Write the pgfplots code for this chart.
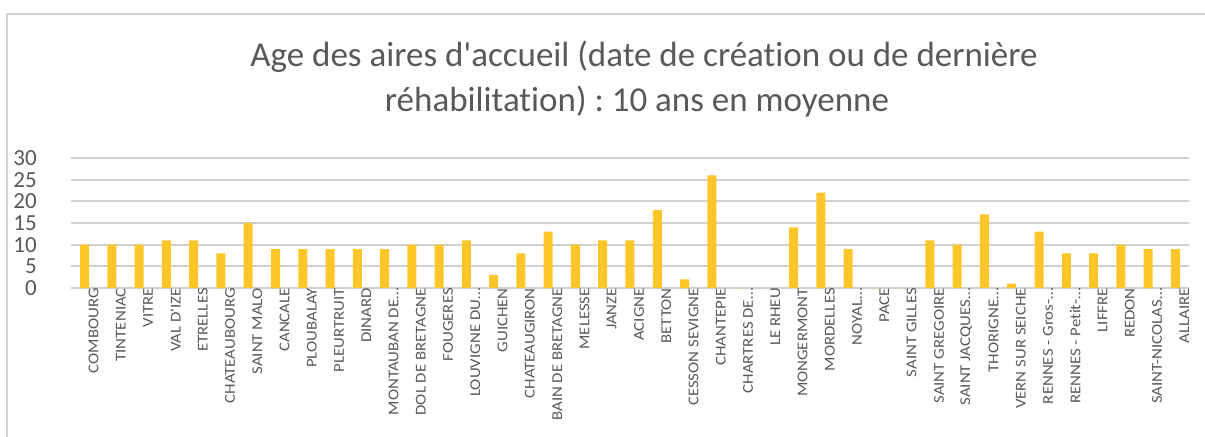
\documentclass[border=0pt]{standalone}
\usepackage{pgfplots}
\pgfplotsset{compat=1.18}
\usepackage{pgfplotstable}
\usepackage{fontspec}
\setmainfont{Carlito}[Ligatures={TeXOff,CommonOff}]
\newfontfamily\lblfont{Carlito}[FakeStretch=1.12, Ligatures={TeXOff,CommonOff}]
\frenchspacing
\definecolor{txt}{HTML}{595959}
\definecolor{gridc}{HTML}{D0D0D0}
\definecolor{barc}{HTML}{FFC629}
\pgfplotstableread{
x y
0 10
1 10
2 10
3 11
4 11
5 8
6 15
7 9
8 9
9 9
10 9
11 9
12 10
13 10
14 11
15 3
16 8
17 13
18 10
19 11
20 11
21 18
22 2
23 26
24 0
25 0
26 14
27 22
28 9
29 0
30 0
31 11
32 10
33 17
34 1
35 13
36 8
37 8
38 10
39 9
40 9
}\datatable
\begin{document}
\begin{tikzpicture}
\path[use as bounding box] (0,0) rectangle (1205bp,437bp);
\draw[gridc, line width=2bp] (7bp,0) -- (7bp,423bp) -- (1205bp,423bp);
\node[anchor=base, text=txt, font=\fontsize{35bp}{42bp}\selectfont, inner sep=0pt] at (644bp,370bp)
  {Age des aires d'accueil (date de création ou de dernière};
\node[anchor=base, text=txt, font=\fontsize{35bp}{42bp}\selectfont, inner sep=0pt] at (637bp,325bp)
  {réhabilitation) : 10 ans en moyenne};
\begin{axis}[
  at={(71bp,149bp)}, anchor=south west,
  scale only axis, width=1118bp, height=130bp,
  xmin=-0.5, xmax=40.5, ymin=0, ymax=30,
  ytick={0,5,...,30},
  xtick={0,...,40},
  xticklabels={COMBOURG,TINTENIAC,VITRE,VAL D'IZE,ETRELLES,CHATEAUBOURG,SAINT MALO,CANCALE,PLOUBALAY,PLEURTRUIT,DINARD,MONTAUBAN DE…,DOL DE BRETAGNE,FOUGERES,LOUVIGNE DU…,GUICHEN,CHATEAUGIRON,BAIN DE BRETAGNE,MELESSE,JANZE,ACIGNE,BETTON,CESSON SEVIGNE,CHANTEPIE,CHARTRES DE…,LE RHEU,MONGERMONT,MORDELLES,NOYAL…,PACE,SAINT GILLES,SAINT GREGOIRE,SAINT JACQUES…,THORIGNE…,VERN SUR SEICHE,RENNES - Gros-…,RENNES - Petit-…,LIFFRE,REDON,SAINT-NICOLAS…,ALLAIRE},
  xticklabel style={rotate=90, anchor=east, text=txt, font=\lblfont\fontsize{15bp}{17bp}\selectfont, inner sep=0pt},
  yticklabel style={text=txt, font=\fontsize{23bp}{25bp}\selectfont, inner sep=0pt},
  /pgf/number format/assume math mode=true,
  major tick length=0pt,
  x tick label style={yshift=-9bp},
  y tick label style={xshift=-34bp},
  ymajorgrids, grid style={gridc, line width=2bp},
  axis x line*=bottom, axis y line*=left,
  x axis line style={gridc, line width=2bp, -},
  y axis line style={draw=none},
  ybar, bar width=9bp,
  clip=false,
]
\addplot[fill=barc, draw=none] table[x=x,y=y]{\datatable};
\end{axis}
\end{tikzpicture}
\end{document}
